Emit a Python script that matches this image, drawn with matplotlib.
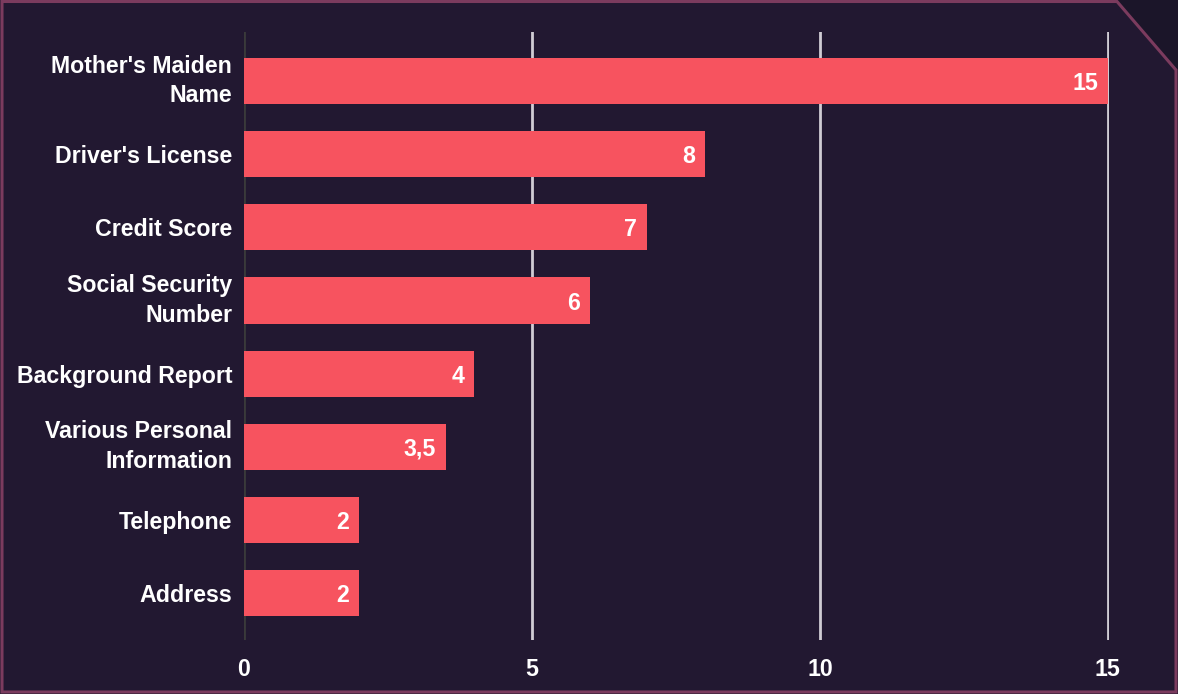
import matplotlib
matplotlib.use("Agg")
import matplotlib.pyplot as plt
from matplotlib.patches import Polygon
from matplotlib import font_manager as fm
import os

categories = ["Mother's Maiden\nName", "Driver's License", "Credit Score",
              "Social Security\nNumber", "Background Report",
              "Various Personal\nInformation", "Telephone", "Address"]
values = [15, 8, 7, 6, 4, 3.5, 2, 2]
value_labels = ["15", "8", "7", "6", "4", "3,5", "2", "2"]
xticks = [0, 5, 10, 15]

# locate the regular-width Liberation Sans Bold (not Narrow)
bold_file = None
for f in fm.findSystemFonts():
    if os.path.basename(f) == 'LiberationSans-Bold.ttf':
        bold_file = f
        break
if bold_file:
    fm.fontManager.addfont(bold_file)
    fam = fm.FontProperties(fname=bold_file).get_name()
else:
    fam = 'DejaVu Sans'
plt.rcParams['font.family'] = [fam, 'DejaVu Sans']
fp = fm.FontProperties(fname=bold_file, size=16.7) if bold_file else fm.FontProperties(family='DejaVu Sans', weight='bold', size=15)

W, H = 1178, 694
fig = plt.figure(figsize=(W/100, H/100), dpi=100)
fig.patch.set_facecolor('#1b1529')

pts = [(2, 2), (W-2, 2), (W-2, H-70), (1117, H-1.5), (2, H-1.5)]
poly = Polygon([(x / W, y / H) for x, y in pts], closed=True,
               transform=fig.transFigure, facecolor='#221831',
               edgecolor='#7b3b5e', linewidth=2.2, zorder=-10)
fig.patches.append(poly)

ax = fig.add_axes([244/W, 1 - 640/H, (1109-244)/W, (640-32)/H])
ax.set_zorder(1)
ax.set_facecolor('none')
y = list(range(len(categories)))
ax.barh(y, values, height=0.63, color='#f7535f', zorder=3)
for yi, v, lab in zip(y, values, value_labels):
    ax.text(v - 0.17, yi, lab, ha='right', va='center_baseline', color='white',
            fontproperties=fp, zorder=4)

ax.set_xlim(0, 15.02)
ax.set_ylim(7.64, -0.67)
ax.set_xticks(xticks)
ax.set_xticklabels([str(t) for t in xticks])
ax.set_yticks(y)
ax.set_yticklabels(categories, linespacing=1.38)
for t in ax.get_xticklabels() + ax.get_yticklabels():
    t.set_color('white')
    t.set_fontproperties(fp)
for t in ax.get_yticklabels():
    if '\n' in t.get_text():
        t.set_va('center')
ax.tick_params(axis='both', length=0)
ax.tick_params(axis='x', pad=13)
ax.tick_params(axis='y', pad=8.5)
for s in ax.spines.values():
    s.set_visible(False)
for t in xticks:
    ax.axvline(t, color='#3a3a3a' if t == 0 else '#d0ccd4', linewidth=2, zorder=1)

fig.savefig('out.png', dpi=100, facecolor=fig.get_facecolor())
